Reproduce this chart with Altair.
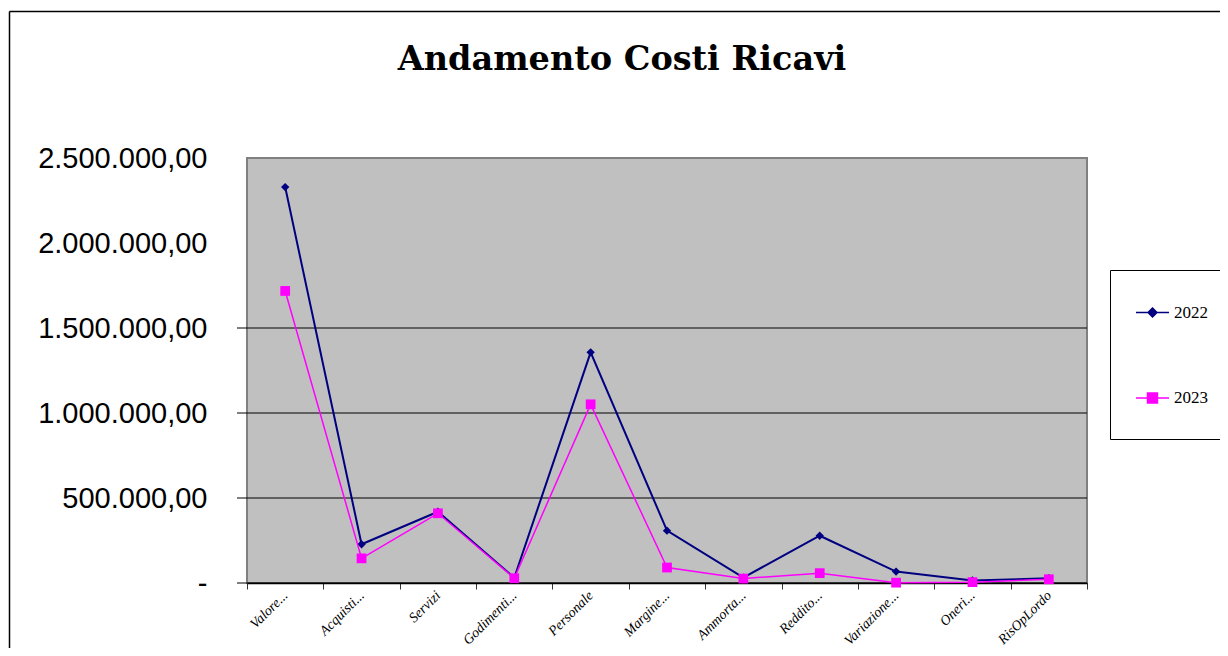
import altair as alt
import pandas as pd

categories = ["Valore...", "Acquisti...", "Servizi", "Godimenti...", "Personale",
              "Margine...", "Ammorta...", "Reddito...", "Variazione...", "Oneri...", "RisOpLordo"]
years = ["2022", "2023"]
v2022 = [2329000, 228000, 419000, 31000, 1357000, 308000, 32000, 278000, 67000, 15000, 28000]
v2023 = [1718000, 145000, 410000, 28000, 1051000, 91000, 26000, 58000, 2000, 5000, 22000]
axis_values = [0, 500000, 1000000, 1500000, 2000000, 2500000]
grid_values = [0, 500000, 1000000, 1500000]
title_text = ["Andamento Costi Ricavi"]

colors = ["#000080", "#FF00FF"]
legend_shapes = ["M-1,0H1M0,-0.27L0.27,0L0,0.27L-0.27,0Z",
                 "M-1,0H1M-0.3,-0.3H0.3V0.3H-0.3Z"]

rows = []
for c, a, b in zip(categories, v2022, v2023):
    rows.append({"voce": c, "anno": "2022", "valore": a})
    rows.append({"voce": c, "anno": "2023", "valore": b})
df = pd.DataFrame(rows)
grid_df = pd.DataFrame({"valore": grid_values})
title_df = pd.DataFrame({"t": title_text})
frame_df = pd.DataFrame({"k": [0]})

W, H = 840, 425
OX, OY = 247, 158  # plot origin on the page
SVG_W, SVG_H = 1212, 640

xenc = alt.X("voce:N", sort=categories, title=None,
             scale=alt.Scale(paddingInner=0, paddingOuter=0),
             axis=alt.Axis(labelAngle=-45, labelAlign="right", labelBaseline="middle",
                           labelFont="Liberation Serif", labelFontStyle="italic",
                           labelFontSize=14, labelColor="black", labelPadding=4,
                           tickBand="extent", tickColor="#333333", tickSize=6,
                           domainColor="black", domainWidth=1.5, grid=False))
yscale = alt.Scale(domain=[0, 2500000], nice=False, zero=True)
yaxis = alt.Axis(values=axis_values, format=",.2f",
                 labelExpr="datum.value == 0 ? '-\u00a0\u00a0' : datum.label",
                 labelFont="Liberation Sans", labelFontSize=29, labelColor="black",
                 ticks=False, domain=False, grid=False, labelPadding=40)
yenc = alt.Y("valore:Q", scale=yscale, title=None, axis=yaxis)

grid = alt.Chart(grid_df).mark_rule(color="black", strokeWidth=1).encode(
    y=yenc, x=alt.value(-10), x2=alt.value(W))

def series(year, color, width, shape, size):
    base = alt.Chart(df).transform_filter(f"datum.anno == '{year}'")
    ln = base.mark_line(color=color, strokeWidth=width).encode(x=xenc, y=yenc)
    pt = base.mark_point(shape=shape, filled=True, size=size, opacity=1, color=color).encode(x=xenc, y=yenc)
    return [ln, pt]

s22 = series("2022", colors[0], 2, "diamond", 70)
s23 = series("2023", colors[1], 1.5, "square", 95)

leg = dict(title="\u00a0", titleOrient="bottom", titleFontSize=8, titlePadding=0,
           orient="none", legendX=1110 - OX, legendY=270 - OY,
           strokeColor="black", fillColor="white", padding=25, symbolSize=1089,
           rowPadding=59.5, labelFont="Liberation Serif", labelFontSize=17,
           labelColor="black", labelOffset=4, symbolStrokeWidth=1.5, symbolOpacity=1)
legend_layer = alt.Chart(df).mark_point(filled=True, opacity=0).encode(
    x=xenc, y=yenc,
    color=alt.Color("anno:N", scale=alt.Scale(domain=years, range=colors), legend=alt.Legend(**leg)),
    stroke=alt.Stroke("anno:N", scale=alt.Scale(domain=years, range=colors), legend=alt.Legend(**leg)),
    shape=alt.Shape("anno:N", scale=alt.Scale(domain=years, range=legend_shapes), legend=alt.Legend(**leg)))

title = alt.Chart(title_df).mark_text(font="DejaVu Serif", fontSize=33.5, fontWeight="bold",
                                      color="black", align="center", baseline="alphabetic").encode(
    text="t:N", x=alt.value(622 - OX), y=alt.value(70 - OY))

frame_left = alt.Chart(frame_df).mark_rule(color="black", strokeWidth=1.5).encode(
    x=alt.value(9.5 - OX), y=alt.value(11.5 - OY), y2=alt.value(648 - OY))
frame_top = alt.Chart(frame_df).mark_rule(color="black", strokeWidth=1.5).encode(
    x=alt.value(9.5 - OX), x2=alt.value(1220 - OX), y=alt.value(11.5 - OY))

chart = alt.layer(grid, *s22, *s23, legend_layer, title, frame_left, frame_top).properties(
    width=W, height=H,
    autosize=alt.AutoSizeParams(type="none"),
    padding={"left": OX - 8, "top": OY - 8, "right": SVG_W - (OX - 8) - W, "bottom": SVG_H - (OY - 8) - H},
).configure(
    locale={"number": {"decimal": ",", "thousands": ".", "grouping": [3], "currency": ["€", ""]}},
    background="white",
).configure_view(fill="#C0C0C0", stroke="#808080", strokeWidth=2)

chart.save("out.html", embed_options={"renderer": "svg", "actions": False})
